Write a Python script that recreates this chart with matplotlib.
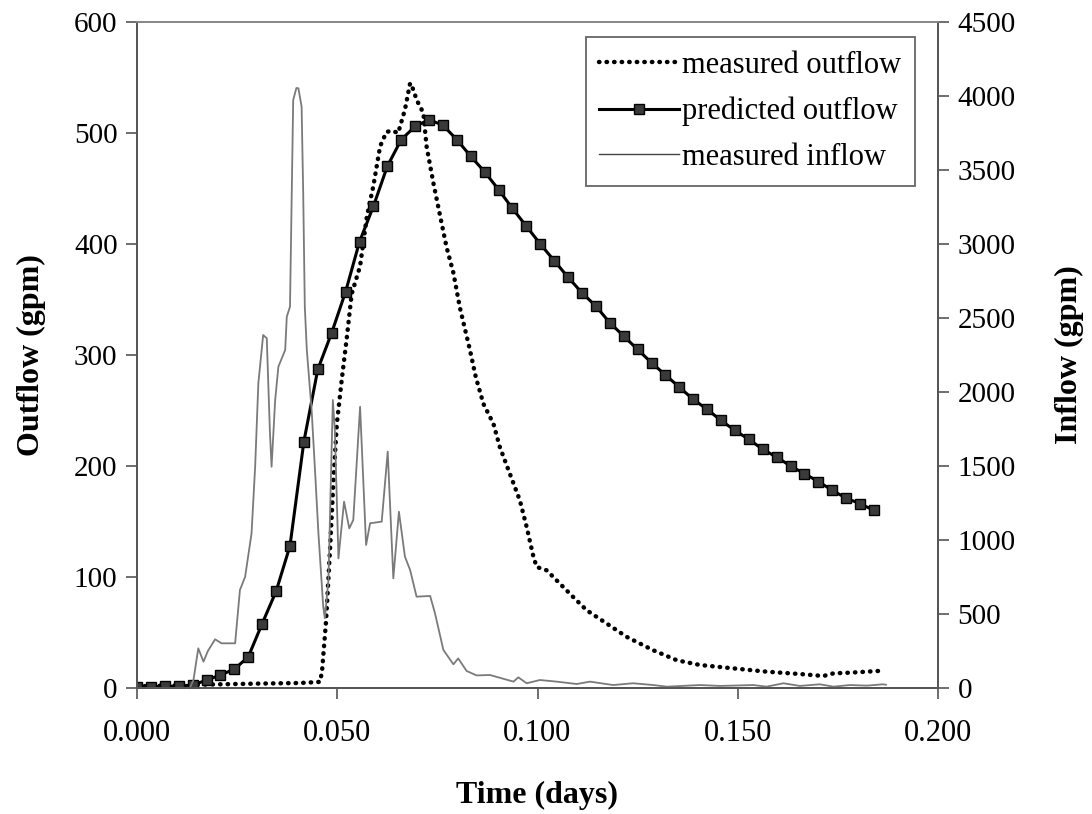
import matplotlib
matplotlib.use("Agg")
import matplotlib.pyplot as plt
from matplotlib.lines import Line2D
import numpy as np

plt.rcParams['font.family'] = ['Liberation Serif', 'DejaVu Serif']

# predicted outflow (gpm), every 5 minutes
pred_step_days = 5.0 / 1440.0
pred_outflow = [1.2, 1.2, 1.5, 1.8, 2.7, 7, 11.7, 17, 28, 58,
                87, 128, 222, 287, 320, 357, 402, 434, 470, 494,
                506, 512, 507, 494, 479, 465, 449, 432, 416, 400,
                385, 370, 356, 344, 329, 317, 305, 293, 282, 271,
                260, 251, 241, 232, 224, 215, 208, 200, 193, 186,
                178, 171, 166, 160]
pred_time = [i * pred_step_days for i in range(len(pred_outflow))]

# measured outflow (gpm)
meas_out_time = [0.0000, 0.0157, 0.0307, 0.0407, 0.0457, 0.0462, 0.0472, 0.0482,
                 0.0491, 0.0499, 0.0511, 0.0524, 0.0536, 0.0557, 0.0574, 0.0590,
                 0.0607, 0.0623, 0.0637, 0.0652, 0.0669, 0.0682, 0.0690, 0.0698,
                 0.0715, 0.0723, 0.0740, 0.0757, 0.0773, 0.0790, 0.0806, 0.0831,
                 0.0846, 0.0865, 0.0890, 0.0906, 0.0931, 0.0956, 0.0973, 0.0990,
                 0.0998, 0.1023, 0.1056, 0.1089, 0.1123, 0.1173, 0.1223, 0.1289,
                 0.1348, 0.1406, 0.1489, 0.1572, 0.1655, 0.1714, 0.1739, 0.1780,
                 0.1863]
meas_outflow = [1.5, 3, 4, 4.5, 5.5, 15, 60, 125,
                190, 238, 277, 316, 355, 380, 425, 452,
                488, 501, 502, 500, 521, 545, 539, 530,
                518, 488, 455, 425, 397, 374, 343, 305,
                280, 256, 238, 217, 193, 169, 145, 118,
                109, 106, 94, 82, 70, 58, 46, 34,
                25, 20.7, 17.7, 14.7, 12.6, 10.8, 13.2, 13.8,
                15.6]

# measured inflow (gpm)
inflow_time = [0.0000, 0.0132, 0.0141, 0.0153, 0.0166, 0.0177, 0.0195, 0.0211,
               0.0245, 0.0257, 0.0270, 0.0286, 0.0295, 0.0303, 0.0315, 0.0324,
               0.0332, 0.0336, 0.0345, 0.0353, 0.0370, 0.0374, 0.0382, 0.0390,
               0.0398, 0.0403, 0.0411, 0.0415, 0.0419, 0.0424, 0.0436, 0.0444,
               0.0453, 0.0465, 0.0469, 0.0478, 0.0489, 0.0494, 0.0503, 0.0517,
               0.0530, 0.0540, 0.0557, 0.0572, 0.0582, 0.0611, 0.0626, 0.0640,
               0.0654, 0.0669, 0.0682, 0.0698, 0.0732, 0.0744, 0.0765, 0.0790,
               0.0802, 0.0823, 0.0848, 0.0881, 0.0940, 0.0952, 0.0973, 0.1006,
               0.1048, 0.1098, 0.1131, 0.1189, 0.1239, 0.1289, 0.1323, 0.1406,
               0.1456, 0.1539, 0.1572, 0.1614, 0.1655, 0.1705, 0.1739, 0.1780,
               0.1822, 0.1863, 0.1870]
inflow = [0, 0, 54, 268, 178, 250, 329, 302,
          302, 662, 752, 1045, 1495, 2059, 2385, 2363,
          1721, 1495, 1946, 2171, 2284, 2509, 2576, 3973,
          4054, 4052, 3928, 3342, 2576, 2284, 1878, 1495,
          1045, 549, 471, 730, 1946, 1743, 876, 1259,
          1079, 1135, 1900, 966, 1113, 1124, 1597, 741,
          1191, 887, 797, 617, 622, 505, 257, 160,
          200, 115, 85, 88, 43, 72, 32, 54,
          43, 27, 43, 20, 32, 20, 9, 20,
          14, 20, 9, 32, 14, 25, 9, 20,
          16, 25, 22]

x_ticks = [0.000, 0.050, 0.100, 0.150, 0.200]
y_left_ticks = [0, 100, 200, 300, 400, 500, 600]
y_right_ticks = [0, 500, 1000, 1500, 2000, 2500, 3000, 3500, 4000, 4500]

fig = plt.figure(figsize=(10.92, 8.14), dpi=100)
ax = fig.add_axes([137/1092, 1 - 688/814, (938-137)/1092, (688-22)/814])
ax2 = ax.twinx()

spine_col = '#555555'

l_meas, = ax.plot(meas_out_time, meas_outflow, color='black', lw=3.2,
                  linestyle=(0, (0.1, 1.6)), dash_capstyle='round',
                  label='measured outflow', zorder=3)
l_pred, = ax.plot(pred_time, pred_outflow, color='black', lw=2.2,
                  marker='s', markersize=7.5, markerfacecolor='#3a3a3a',
                  markeredgecolor='black', markeredgewidth=1.0,
                  label='predicted outflow', zorder=4)
l_in, = ax2.plot(inflow_time, inflow, color='#7a7a7a', lw=1.3,
                 label='measured inflow', zorder=2)

ax.set_xlim(0, 0.2)
ax.set_ylim(0, 600)
ax2.set_ylim(0, 4500)
ax.set_xticks(x_ticks)
ax.set_xticklabels([f'{v:.3f}' for v in x_ticks])
ax.set_yticks(y_left_ticks)
ax2.set_yticks(y_right_ticks)

for a in (ax, ax2):
    for s in a.spines.values():
        s.set_color(spine_col)
        s.set_linewidth(1.3)
    a.spines['top'].set_color('#888888')

ax.tick_params(axis='x', direction='out', length=8, width=1.2, color=spine_col,
               labelsize=22, pad=14)
ax.tick_params(axis='y', direction='out', length=8, width=1.2, color=spine_col,
               labelsize=21, pad=6)
ax2.tick_params(axis='y', direction='out', length=8, width=1.2, color=spine_col,
                labelsize=21, pad=6)

ax.set_xlabel('Time (days)', fontsize=23, fontweight='bold', labelpad=24)
ax.set_ylabel('Outflow (gpm)', fontsize=23, fontweight='bold', labelpad=20)
ax2.set_ylabel('Inflow (gpm)', fontsize=23, fontweight='bold', labelpad=28)

h_meas = Line2D([], [], color='black', lw=3.2, linestyle=(0, (0.1, 1.6)),
                dash_capstyle='round')
h_pred = Line2D([], [], color='black', lw=2.2, marker='s', markersize=7.5,
                markerfacecolor='#3a3a3a', markeredgecolor='black')
h_in = Line2D([], [], color='#444444', lw=1.0)
leg = ax2.legend([h_meas, h_pred, h_in],
                 ['measured outflow', 'predicted outflow', 'measured inflow'],
                 loc='upper right', bbox_to_anchor=(0.971, 0.977),
                 fontsize=22, frameon=True, fancybox=False, framealpha=1,
                 edgecolor='#666666', handlelength=2.6, handletextpad=0.1,
                 labelspacing=0.55, borderpad=0.45, borderaxespad=0)
leg.get_frame().set_linewidth(1.3)

fig.savefig('out.png', dpi=100)
